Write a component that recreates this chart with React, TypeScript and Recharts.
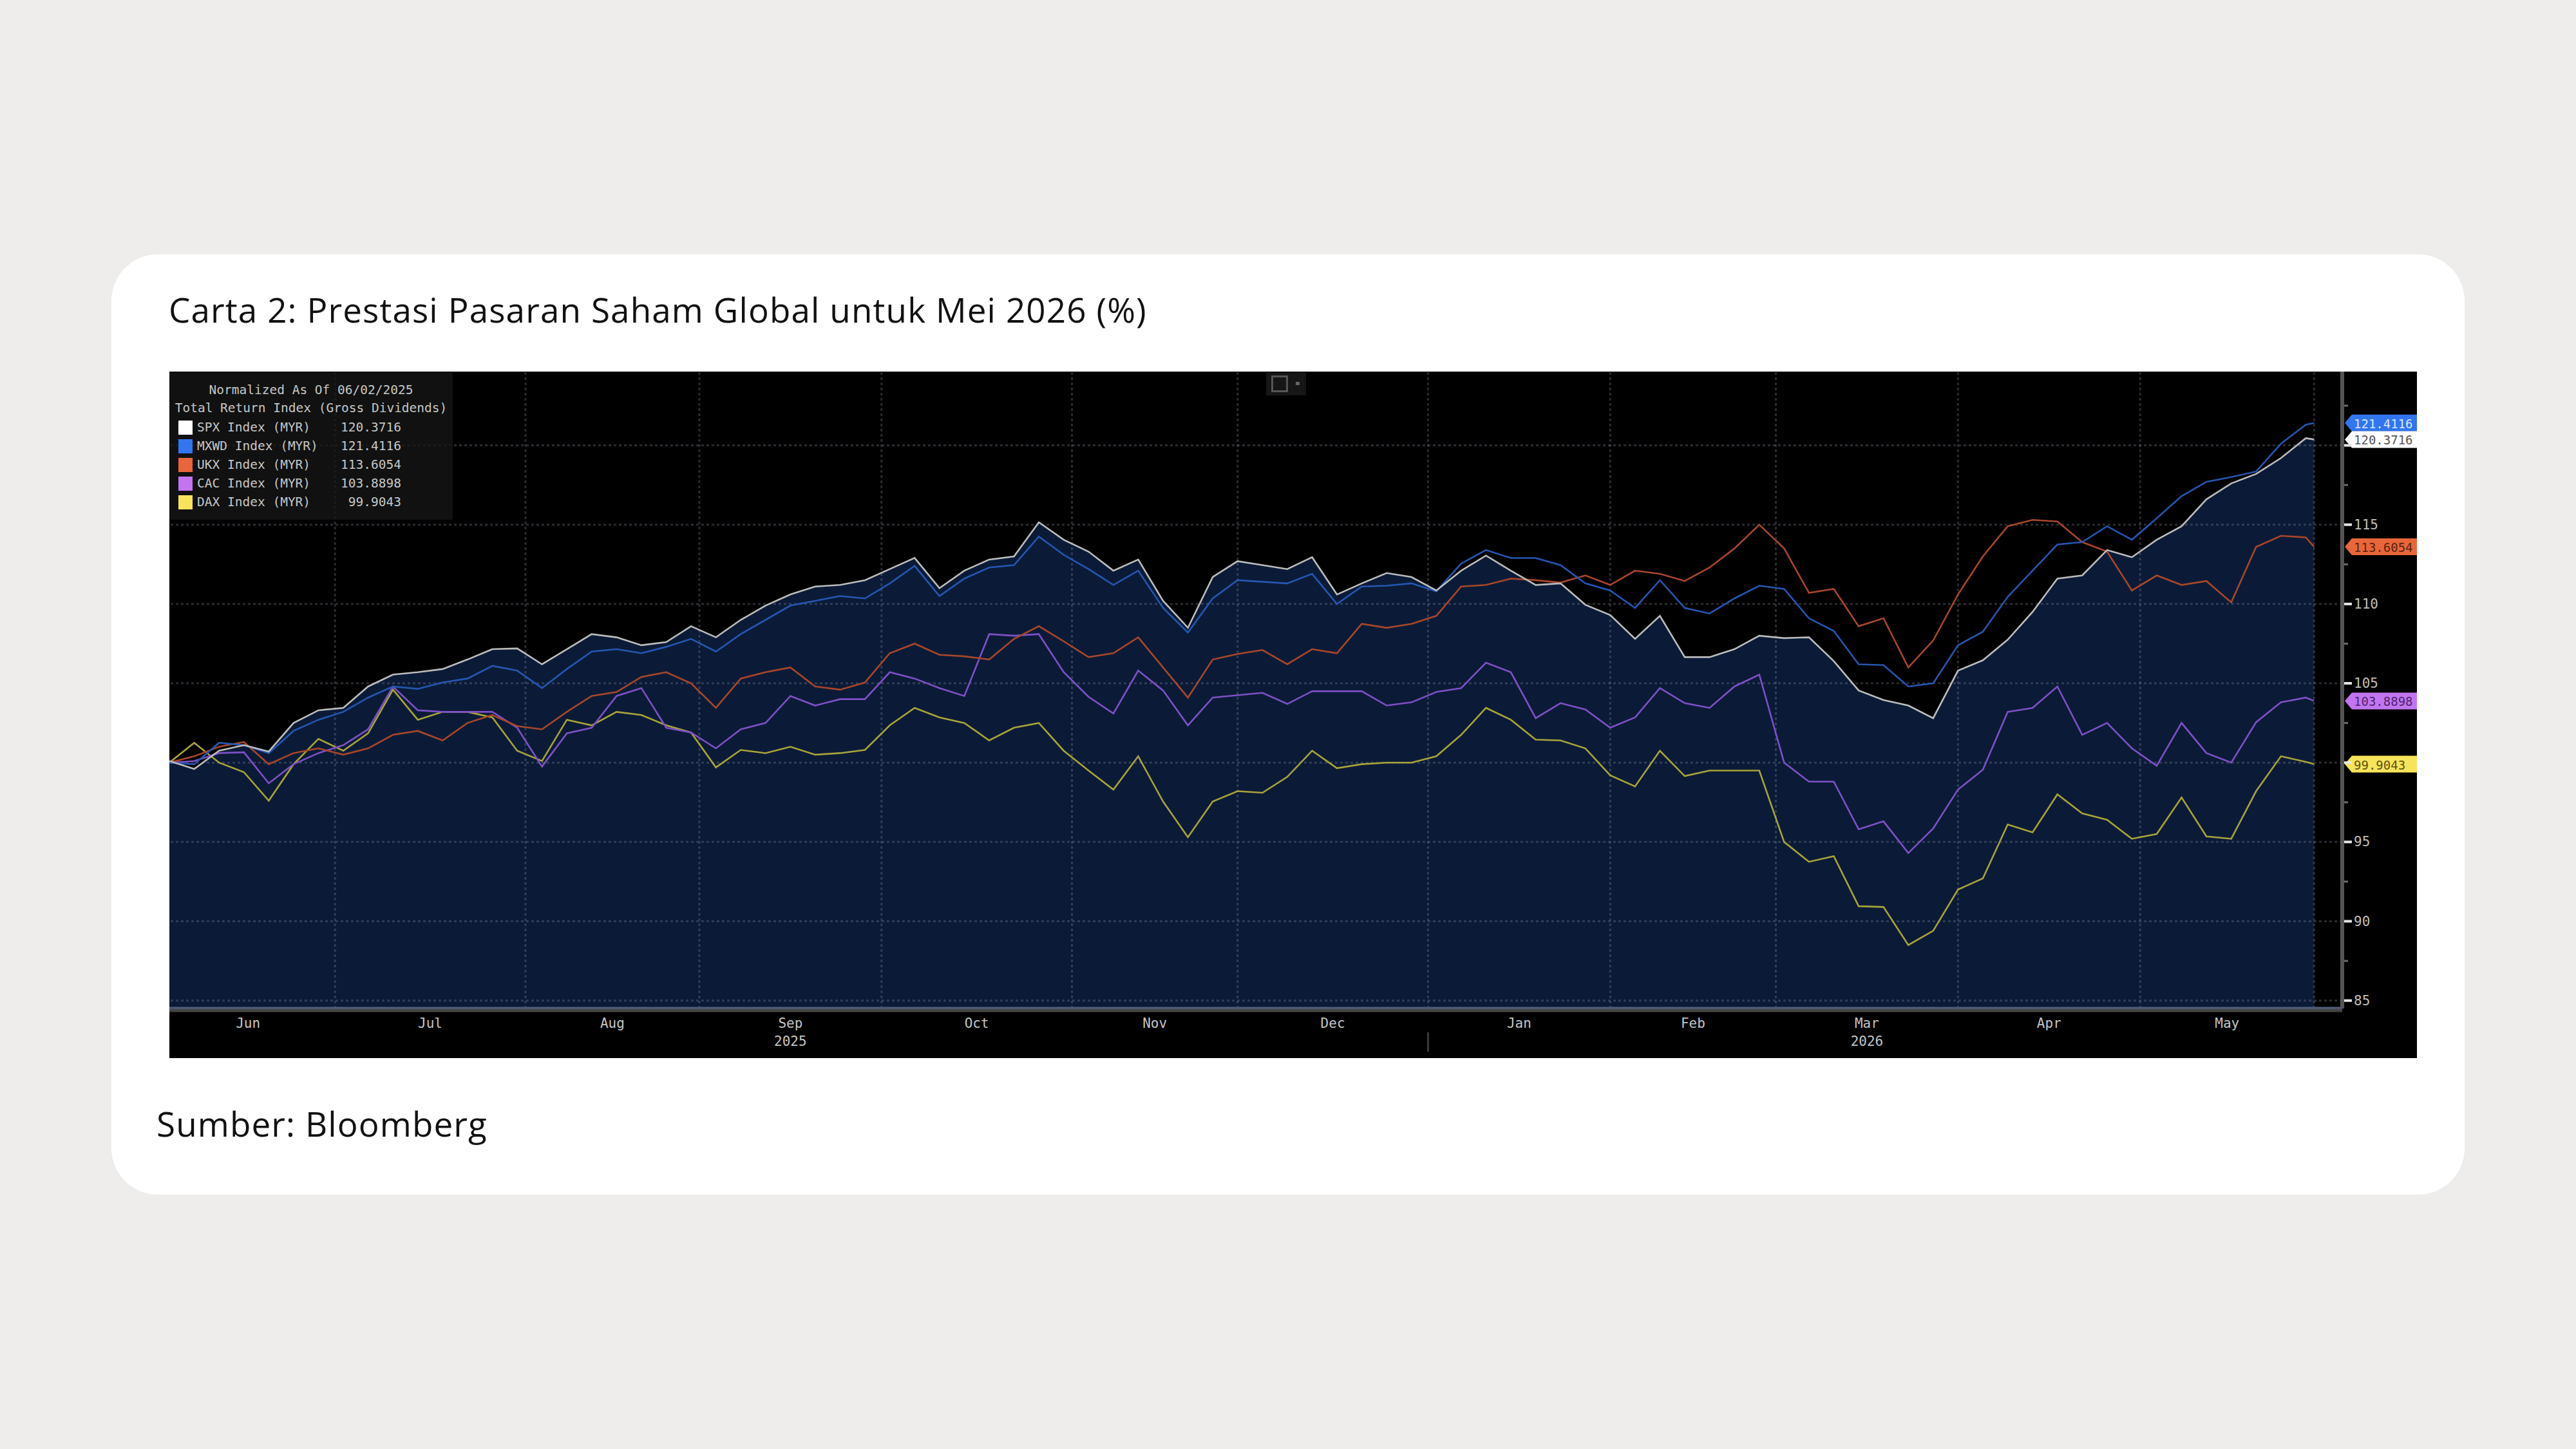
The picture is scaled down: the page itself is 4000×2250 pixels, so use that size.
import React from "react";
import {
  Area,
  ComposedChart,
  Line,
  ReferenceDot,
  ReferenceLine,
  XAxis,
  YAxis,
} from "recharts";

// trading-day index since 02 Jun 2025 (weekdays), sampled every third session
const days = [
  1, 4, 7, 10, 13, 16, 19, 22, 25, 28,
  31, 34, 37, 40, 43, 46, 49, 52, 55, 58,
  61, 64, 67, 70, 73, 76, 79, 82, 85, 88,
  91, 94, 97, 100, 103, 106, 109, 112, 115, 118,
  121, 124, 127, 130, 133, 136, 139, 142, 145, 148,
  151, 154, 157, 160, 163, 166, 169, 172, 175, 178,
  181, 184, 187, 190, 193, 196, 199, 202, 205, 208,
  211, 214, 217, 220, 223, 226, 229, 232, 235, 238,
  241, 244, 247, 250, 253, 256, 259, 260,
];

const spx = [
  100.1, 99.6, 100.75, 101.1, 100.7, 102.5, 103.3, 103.45, 104.8, 105.55,
  105.7, 105.9, 106.5, 107.15, 107.2, 106.2, 107.15, 108.1, 107.9, 107.4,
  107.6, 108.6, 107.9, 109.0, 109.9, 110.6, 111.1, 111.2, 111.5, 112.2,
  112.9, 111.0, 112.1, 112.8, 113.0, 115.15, 114.05, 113.3, 112.1, 112.8,
  110.2, 108.5, 111.7, 112.7, 112.45, 112.2, 112.95, 110.6, 111.3, 111.95,
  111.7, 110.85, 112.1, 113.05, 112.1, 111.2, 111.3, 109.95, 109.3, 107.8,
  109.25, 106.65, 106.65, 107.15, 108.0, 107.85, 107.9, 106.4, 104.55, 103.95,
  103.6, 102.8, 105.8, 106.45, 107.75, 109.5, 111.6, 111.8, 113.4, 112.95,
  114.05, 114.9, 116.6, 117.6, 118.2, 119.2, 120.45, 120.3716,
];

const mxwd = [
  100.0, 99.9, 101.25, 101.1, 100.6, 102.0, 102.7, 103.2, 104.1, 104.8,
  104.65, 105.05, 105.3, 106.1, 105.8, 104.7, 105.9, 107.0, 107.15, 106.9,
  107.3, 107.8, 107.0, 108.1, 109.0, 109.9, 110.2, 110.5, 110.35, 111.3,
  112.4, 110.5, 111.6, 112.3, 112.45, 114.25, 113.1, 112.2, 111.2, 112.1,
  109.75, 108.2, 110.35, 111.5, 111.4, 111.3, 111.9, 110.0, 111.1, 111.15,
  111.3, 110.8, 112.55, 113.4, 112.9, 112.9, 112.45, 111.3, 110.85, 109.75,
  111.5, 109.75, 109.4, 110.35, 111.15, 110.95, 109.1, 108.3, 106.2, 106.15,
  104.8, 105.0, 107.4, 108.25, 110.45, 112.1, 113.75, 113.9, 114.9, 114.05,
  115.4, 116.8, 117.7, 118.0, 118.35, 120.1, 121.3, 121.4116,
];

const ukx = [
  100.0, 100.4, 101.0, 101.3, 99.9, 100.6, 100.9, 100.5, 100.9, 101.75,
  102.0, 101.4, 102.5, 103.0, 102.3, 102.1, 103.2, 104.2, 104.45, 105.4,
  105.7, 105.0, 103.45, 105.3, 105.7, 106.0, 104.8, 104.6, 105.05, 106.9,
  107.5, 106.8, 106.7, 106.5, 107.8, 108.6, 107.65, 106.65, 106.9, 107.9,
  106.0, 104.1, 106.5, 106.85, 107.1, 106.2, 107.15, 106.9, 108.75, 108.5,
  108.75, 109.25, 111.1, 111.2, 111.6, 111.5, 111.35, 111.8, 111.2, 112.1,
  111.9, 111.45, 112.3, 113.5, 115.0, 113.5, 110.7, 110.95, 108.6, 109.1,
  106.0, 107.7, 110.6, 113.0, 114.9, 115.3, 115.2, 113.9, 113.3, 110.85,
  111.8, 111.2, 111.45, 110.1, 113.6, 114.3, 114.2, 113.6054,
];

const cac = [
  100.0, 100.1, 100.6, 100.65, 98.7, 99.9, 100.6, 101.1, 102.1, 104.8,
  103.3, 103.2, 103.2, 103.2, 102.2, 99.75, 101.85, 102.2, 104.2, 104.7,
  102.2, 101.9, 100.9, 102.1, 102.5, 104.2, 103.6, 104.0, 104.0, 105.7,
  105.3, 104.7, 104.2, 108.1, 108.0, 108.1, 105.7, 104.15, 103.1, 105.8,
  104.55, 102.35, 104.1, 104.25, 104.4, 103.7, 104.5, 104.5, 104.5, 103.6,
  103.8, 104.45, 104.7, 106.3, 105.7, 102.8, 103.75, 103.35, 102.2, 102.85,
  104.7, 103.75, 103.45, 104.8, 105.55, 100.0, 98.8, 98.8, 95.8, 96.3,
  94.3, 95.85, 98.3, 99.55, 103.2, 103.45, 104.8, 101.75, 102.5, 100.9,
  99.8, 102.5, 100.6, 100.0, 102.55, 103.8, 104.1, 103.8898,
];

const dax = [
  100.0, 101.25, 100.0, 99.4, 97.6, 99.9, 101.5, 100.75, 101.85, 104.6,
  102.7, 103.2, 103.2, 102.85, 100.75, 100.1, 102.7, 102.35, 103.2, 103.0,
  102.35, 101.9, 99.7, 100.8, 100.6, 101.0, 100.5, 100.6, 100.8, 102.35,
  103.45, 102.85, 102.5, 101.4, 102.2, 102.5, 100.75, 99.5, 98.3, 100.4,
  97.55, 95.3, 97.55, 98.2, 98.1, 99.1, 100.75, 99.65, 99.9, 100.0,
  100.0, 100.4, 101.75, 103.45, 102.7, 101.45, 101.4, 100.9, 99.2, 98.5,
  100.75, 99.15, 99.5, 99.5, 99.5, 95.0, 93.75, 94.1, 90.95, 90.9,
  88.5, 89.4, 92.0, 92.7, 96.1, 95.6, 98.0, 96.8, 96.4, 95.2,
  95.5, 97.8, 95.35, 95.2, 98.2, 100.4, 100.05, 99.9043,
];

// first session of each month (Jul .. Jun) and mid-month label positions
const monthStarts = [21, 44, 65, 87, 110, 130, 153, 175, 195, 217, 239, 260];
const monthMids = [10.5, 32.5, 54.5, 76, 98.5, 120, 141.5, 164, 185, 206, 228, 249.5];
const monthLabels = ["Jun", "Jul", "Aug", "Sep", "Oct", "Nov", "Dec", "Jan", "Feb", "Mar", "Apr", "May"];
const yearLabels = ["", "", "", "2025", "", "", "", "", "", "2026", "", ""];
const yearBreak = 153;

const yTicks = [85, 87.5, 90, 92.5, 95, 97.5, 100, 102.5, 105, 107.5, 110, 112.5, 115, 117.5, 120, 122.5];
const gridLevels = [85, 90, 95, 100, 105, 110, 115, 120];

const seriesKeys = ["spx", "mxwd", "ukx", "cac", "dax"];
const seriesNames = ["SPX Index (MYR)", "MXWD Index (MYR)", "UKX Index (MYR)", "CAC Index (MYR)", "DAX Index (MYR)"];
const seriesValues = [spx, mxwd, ukx, cac, dax];
const lineColors = ["#bcbcbc", "#2656b2", "#a9462a", "#7e50c6", "#a8a33a"];
const swatchColors = ["#ffffff", "#3275ee", "#e8663a", "#c375f0", "#f7e45a"];
const tagText = ["#555555", "#d8e6ff", "#5a2410", "#4e2670", "#5c5410"];

const rows = days.map((day, i) => ({
  day,
  spx: spx[i],
  mxwd: mxwd[i],
  ukx: ukx[i],
  cac: cac[i],
  dax: dax[i],
}));

const MONO = "'DejaVu Sans Mono', 'Liberation Mono', monospace";
const X_MAX = 263.4;
const GRID = "rgba(125,135,155,0.32)";

function MonthTick(props: any) {
  const { x, y, payload } = props;
  if (payload.value === yearBreak) {
    return <line x1={x} x2={x} y1={y + 26} y2={y + 56} stroke="#3a3a3a" strokeWidth={3} />;
  }
  const i = monthMids.indexOf(payload.value);
  return (
    <g fontFamily={MONO} fontSize={21} fill="#c4c4c4" textAnchor="middle">
      <text x={x} y={y + 12} dominantBaseline="central">
        {monthLabels[i]}
      </text>
      {yearLabels[i] ? (
        <text x={x} y={y + 40} dominantBaseline="central">
          {yearLabels[i]}
        </text>
      ) : null}
    </g>
  );
}

function PriceTick(props: any) {
  const { x, y, payload } = props;
  const v = payload.value;
  const major = v % 5 === 0;
  return (
    <g>
      <line
        x1={x + 3}
        x2={x + (major ? 15 : 9)}
        y1={y}
        y2={y}
        stroke={major ? "#e6e6e6" : "#6a6a6a"}
        strokeWidth={major ? 4 : 3}
      />
      {major && v !== 100 && v !== 120 ? (
        <text x={x + 18} y={y} dominantBaseline="central" fontFamily={MONO} fontSize={21} fill="#bdbdbd">
          {v}
        </text>
      ) : null}
    </g>
  );
}

function valueTag(i: number) {
  const label = seriesValues[i][seriesValues[i].length - 1].toFixed(4);
  return (p: any) => {
    const x = p.cx + 4;
    const y = p.cy;
    return (
      <g>
        <polygon
          points={`${x},${y} ${x + 11},${y - 13} ${x + 112},${y - 13} ${x + 112},${y + 13} ${x + 11},${y + 13}`}
          fill={swatchColors[i]}
        />
        <text
          x={x + 14}
          y={y + 1}
          dominantBaseline="central"
          fontFamily={MONO}
          fontSize={19}
          fill={tagText[i]}
        >
          {label}
        </text>
      </g>
    );
  };
}

function LegendBox() {
  return (
    <div
      style={{
        position: "absolute",
        left: 0,
        top: 1,
        width: 440,
        height: 229,
        background: "rgba(22,22,22,0.78)",
        fontFamily: MONO,
        fontSize: 19.5,
        color: "#c6c6c6",
        whiteSpace: "pre",
      }}
    >
      <div style={{ position: "absolute", left: 0, width: 440, top: 16, textAlign: "center" }}>
        Normalized As Of 06/02/2025
      </div>
      <div style={{ position: "absolute", left: 0, width: 440, top: 44, textAlign: "center" }}>
        Total Return Index (Gross Dividends)
      </div>
      {seriesNames.map((name, i) => (
        <div key={name} style={{ position: "absolute", left: 14, top: 74 + i * 29, height: 26, width: 400 }}>
          <span
            style={{
              position: "absolute",
              left: 0,
              top: 1,
              width: 22,
              height: 22,
              background: swatchColors[i],
            }}
          />
          <span style={{ position: "absolute", left: 29, top: 0 }}>{name}</span>
          <span style={{ position: "absolute", right: 54, top: 0 }}>
            {seriesValues[i][seriesValues[i].length - 1].toFixed(4)}
          </span>
        </div>
      ))}
    </div>
  );
}

const textBlock = {
  position: "absolute" as const,
  lineHeight: "60px",
  fontFamily: "'Open Sans', sans-serif",
  fontSize: 53,
  letterSpacing: 1.1,
  color: "#111111",
  whiteSpace: "nowrap" as const,
};

export default function App() {
  return (
    <div
      style={{
        position: "absolute",
        left: 0,
        top: 0,
        width: 4000,
        height: 2250,
        background: "#eeedeb",
        overflow: "hidden",
      }}
    >
      <div
        style={{
          position: "absolute",
          left: 173,
          top: 395,
          width: 3654,
          height: 1460,
          background: "#ffffff",
          borderRadius: 72,
        }}
      />
      <div style={{ ...textBlock, left: 262, top: 451 }}>
        Carta 2: Prestasi Pasaran Saham Global untuk Mei 2026 (%)
      </div>

      <div
        style={{
          position: "absolute",
          left: 263,
          top: 577,
          width: 3490,
          height: 1066,
          background: "#000000",
        }}
      >
        <ComposedChart width={3490} height={1066} data={rows} margin={{ top: 0, right: 0, bottom: 0, left: 0 }}>
          <XAxis
            xAxisId="a"
            dataKey="day"
            type="number"
            domain={[1, X_MAX]}
            allowDataOverflow
            height={3}
            ticks={[]}
            tick={false}
            tickLine={false}
            axisLine={{ stroke: "#4f5e7a", strokeWidth: 5 }}
          />
          <XAxis
            xAxisId="b"
            dataKey="day"
            type="number"
            domain={[1, X_MAX]}
            allowDataOverflow
            height={8}
            ticks={monthStarts}
            interval={0}
            tick={false}
            tickSize={9}
            tickLine={{ stroke: "#d0d0d0", strokeWidth: 3 }}
            axisLine={{ stroke: "#454545", strokeWidth: 5 }}
          />
          <XAxis
            xAxisId="c"
            dataKey="day"
            type="number"
            domain={[1, X_MAX]}
            allowDataOverflow
            height={66}
            ticks={[...monthMids, yearBreak]}
            interval={0}
            tickSize={0}
            tickMargin={0}
            tickLine={false}
            axisLine={false}
            tick={<MonthTick />}
          />
          <YAxis
            orientation="right"
            type="number"
            domain={[84.5, 124.65]}
            allowDataOverflow
            width={116}
            ticks={yTicks}
            interval={0}
            tickSize={0}
            tickMargin={0}
            tickLine={false}
            axisLine={{ stroke: "#555555", strokeWidth: 6 }}
            tick={<PriceTick />}
          />

          <Area
            xAxisId="a"
            type="linear"
            dataKey="spx"
            stroke="none"
            fill="#0b1b37"
            fillOpacity={1}
            isAnimationActive={false}
          />

          {gridLevels.map((v) => (
            <ReferenceLine
              key={`h${v}`}
              xAxisId="a"
              y={v}
              stroke={GRID}
              strokeWidth={3}
              strokeDasharray="4 4"
            />
          ))}
          {monthStarts.map((d) => (
            <ReferenceLine
              key={`v${d}`}
              xAxisId="a"
              x={d}
              stroke={GRID}
              strokeWidth={3}
              strokeDasharray="4 4"
            />
          ))}

          {[4, 3, 2, 1, 0].map((i) => (
            <Line
              key={seriesKeys[i]}
              xAxisId="a"
              type="linear"
              dataKey={seriesKeys[i]}
              stroke={lineColors[i]}
              strokeWidth={2.6}
              dot={false}
              isAnimationActive={false}
            />
          ))}

          {[1, 0, 2, 3, 4].map((i) => (
            <ReferenceDot
              key={`tag${i}`}
              xAxisId="a"
              x={X_MAX}
              y={seriesValues[i][seriesValues[i].length - 1]}
              r={0}
              ifOverflow="visible"
              shape={valueTag(i)}
            />
          ))}
        </ComposedChart>

        <LegendBox />

        <div
          style={{
            position: "absolute",
            left: 1703,
            top: 1,
            width: 62,
            height: 36,
            background: "#161616",
          }}
        >
          <div
            style={{
              position: "absolute",
              left: 8,
              top: 5,
              width: 20,
              height: 20,
              border: "3px solid #555",
            }}
          />
          <div
            style={{
              position: "absolute",
              left: 46,
              top: 15,
              width: 6,
              height: 5,
              background: "#666",
            }}
          />
        </div>
      </div>

      <div style={{ ...textBlock, left: 243, top: 1715 }}>Sumber: Bloomberg</div>
    </div>
  );
}
